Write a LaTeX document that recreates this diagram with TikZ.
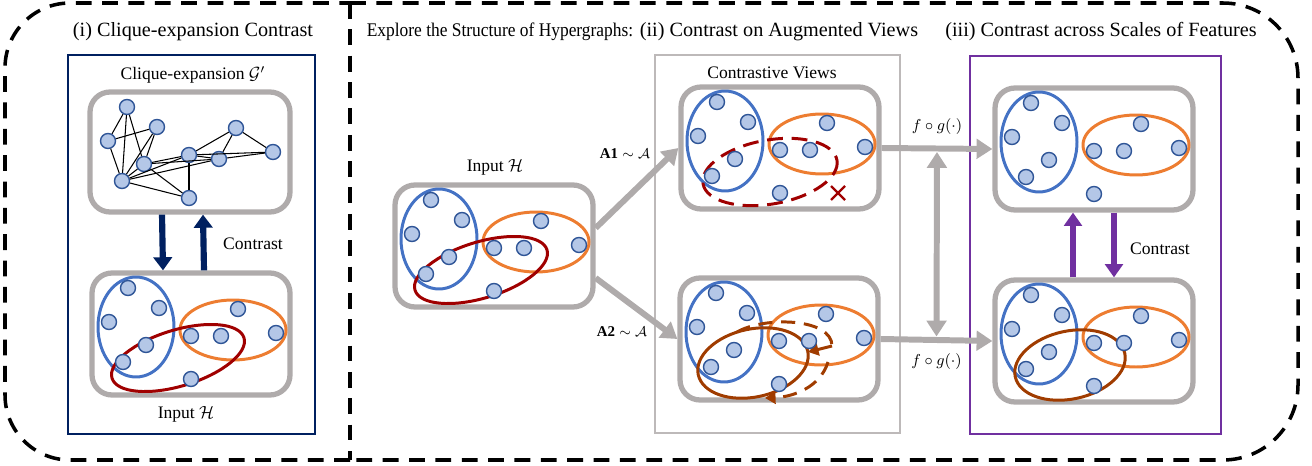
\documentclass[tikz,border=0pt]{standalone}
\usepackage{fontspec}
\setmainfont{Liberation Serif}
\usepackage{amsmath}
\usepackage{graphicx}
\usepackage{tikz}
\usetikzlibrary{arrows.meta, positioning, calc}
\usepackage{xcolor}

\definecolor{navyline}{HTML}{002060}
\definecolor{boxgray}{HTML}{AFABAB}
\definecolor{framegray}{HTML}{BDB9B9}
\definecolor{vfill}{HTML}{B4C7E7}
\definecolor{vborder}{HTML}{2F5597}
\definecolor{hblue}{HTML}{4472C4}
\definecolor{horange}{HTML}{ED7D31}
\definecolor{hred}{HTML}{A00000}
\definecolor{hbrown}{HTML}{A03C00}
\definecolor{hpurple}{HTML}{7030A0}

\newcommand{\ttlsize}{\fontsize{11.5}{14}\selectfont}

\tikzset{
  vtx/.style={circle, draw=vborder, fill=vfill, line width=0.8pt, minimum size=0.3cm, inner sep=0pt},
  hbox/.style={draw=boxgray, line width=3pt, rounded corners=0.4cm, minimum width=3.96cm, minimum height=2.44cm, inner sep=0pt},
  blueedge/.style={draw=hblue, line width=1.7pt},
  orangeedge/.style={draw=horange, line width=1.7pt},
  rededge/.style={draw=hred, line width=1.7pt},
  brownedge/.style={draw=hbrown, line width=1.7pt},
  outer/.style={line width=2pt, dash pattern=on 9pt off 6pt},
  navyarr/.style={draw=navyline, line width=3.5pt, -{Triangle[length=7.5pt, width=10.5pt]}},
  purparr/.style={draw=hpurple, line width=3pt, -{Triangle[length=7.5pt, width=10pt]}},
  grayarr/.style={draw=boxgray, line width=3.4pt, -{Triangle[length=9pt, width=11pt]}},
  lbl/.style={font=\fontsize{10}{12}\selectfont, inner sep=1pt},
}

\newcommand{\hypverts}[1]{%
  \foreach \i/\a/\b in {1/36/15,2/67/35,3/17/49,4/54/72,5/31/89,6/99/63,7/129/63,8/146/36,9/184/60,10/99/106}
    {\node[vtx] (#1\i) at (\a,\b) {};}}

\begin{document}
\begin{tikzpicture}[x=0.02cm, y=-0.02cm]
    \useasboundingbox (0,0) rectangle (1312,466);

    % outer dashed border
    \draw[outer, rounded corners=1.3cm] (350,460) -- (5,460) -- (5,3) -- (350,3);
    \draw[outer, rounded corners=1.5cm] (350,3) -- (1298,3) -- (1298,460) -- (350,460);
    \draw[outer] (350,3) -- (350,460);

    % titles
    \node[font=\ttlsize] (ti) at (193,32) {(i) Clique-expansion Contrast};
    \node[font=\fontsize{11}{13}\selectfont] (texp) at (500,32) {\scalebox{0.9}[1]{Explore the Structure of Hypergraphs:}};
    \node[font=\ttlsize] (tii) at (779,32) {(ii) Contrast on Augmented Views};
    \node[font=\ttlsize] (tiii) at (1101,32) {(iii) Contrast across Scales of Features};

    % (i) clique expansion
    \draw[navyline, line width=1.2pt] (68,55) rectangle (315,434);
    \node[lbl] (clqlbl) at (193,75) {Clique-expansion $\mathcal{G}'$};
    \node[hbox, minimum width=4cm, minimum height=2.4cm] (clq) at (190,152) {};
    \node[vtx] (g1) at (127,107) {};
    \node[vtx] (g2) at (157,127) {};
    \node[vtx] (g3) at (108,141) {};
    \node[vtx] (g4) at (144,164) {};
    \node[vtx] (g5) at (122,181) {};
    \node[vtx] (g6) at (189,155) {};
    \node[vtx] (g7) at (219,159) {};
    \node[vtx] (g8) at (236,128) {};
    \node[vtx] (g9) at (273,152) {};
    \node[vtx] (g10) at (189,198) {};
    \foreach \u/\v in {g1/g3,g1/g4,g1/g5,g2/g3,g2/g4,g2/g5,g3/g5,g4/g5,g4/g6,g4/g7,g4/g10,g5/g6,g5/g7,g5/g10,g6/g7,g6/g8,g6/g9,g6/g10,g7/g8,g7/g9,g8/g9}
        \draw[line width=0.6pt] (\u) -- (\v);

    \begin{scope}[shift={(92,273)}]
        \node[hbox] (inL) at (99,61) {};
        \draw[blueedge] (44,54) ellipse [x radius=38, y radius=50];
        \draw[orangeedge] (141,57) ellipse [x radius=53, y radius=30];
        \draw[rededge, rotate around={17:(86,85)}] (86,85) ellipse [x radius=69, y radius=28];
        \hypverts{inL}
    \end{scope}
    \node[lbl] (inLlbl) at (186,414) {Input $\mathcal{H}$};

    \draw[navyarr] ([xshift=-0.56cm]clq.south) -- ([xshift=-0.56cm]inL.north);
    \draw[navyarr] ([xshift=0.26cm]inL.north) -- ([xshift=0.26cm]clq.south);
    \node[lbl] (ctrL) at (253,244) {Contrast};

    % (ii) augmented views
    \begin{scope}[shift={(395,185)}]
        \node[hbox] (inM) at (99,61) {};
        \draw[blueedge] (44,54) ellipse [x radius=38, y radius=50];
        \draw[orangeedge] (141,57) ellipse [x radius=53, y radius=30];
        \draw[rededge, rotate around={17:(86,85)}] (86,85) ellipse [x radius=69, y radius=28];
        \hypverts{inM}
    \end{scope}
    \node[lbl] (inMlbl) at (495,167) {Input $\mathcal{H}$};

    \draw[framegray, line width=1.4pt] (655,55) rectangle (900,433);
    \node[lbl] (cvlbl) at (772,73) {Contrastive Views};

    \begin{scope}[shift={(681,87)}]
        \node[hbox] (v1) at (99,61) {};
        \draw[blueedge] (44,54) ellipse [x radius=38, y radius=50];
        \draw[orangeedge] (141,57) ellipse [x radius=53, y radius=30];
        \draw[rededge, dash pattern=on 9pt off 5pt, rotate around={10:(89,85)}] (89,85) ellipse [x radius=68, y radius=32];
        \draw[hred, line width=1.4pt] (150,99) -- (164,113) (150,113) -- (164,99);
        \hypverts{va}
    \end{scope}

    \begin{scope}[shift={(680,278)}]
        \node[hbox] (v2) at (99,61) {};
        \draw[blueedge] (44,54) ellipse [x radius=38, y radius=50];
        \draw[orangeedge] (141,57) ellipse [x radius=53, y radius=30];
        \draw[brownedge, rotate around={12:(73,85)}] (73,85) ellipse [x radius=56, y radius=34];
        \draw[brownedge, dash pattern=on 8pt off 5pt] (57,54) .. controls (85,38) and (152,40) .. (152,68);
        \draw[brownedge, -{Triangle[length=6pt, width=7pt]}] (152,68) -- (128,74);
        \draw[brownedge, dash pattern=on 8pt off 5pt, -{Triangle[length=6pt, width=7pt]}] (148,84) .. controls (140,110) and (112,119) .. (85,120);
        \hypverts{vb}
    \end{scope}

    \draw[grayarr] ([yshift=0.36cm]inM.east) -- (v1.west);
    \draw[grayarr] ([yshift=-0.64cm]inM.east) -- (v2.west);
    \node[font=\fontsize{8.5}{10}\selectfont] (a1lbl) at (625,154) {$\textbf{A1}\sim\mathcal{A}$};
    \node[font=\fontsize{8.5}{10}\selectfont] (a2lbl) at (622,332) {$\textbf{A2}\sim\mathcal{A}$};

    % (iii) scales of features
    \draw[hpurple, line width=1.4pt] (970,56) rectangle (1221,434);

    \begin{scope}[shift={(995,88)}]
        \node[hbox] (o1) at (99,61) {};
        \draw[blueedge] (44,54) ellipse [x radius=38, y radius=50];
        \draw[orangeedge] (141,57) ellipse [x radius=53, y radius=30];
        \hypverts{oa}
    \end{scope}

    \begin{scope}[shift={(995,280)}]
        \node[hbox] (o2) at (99,61) {};
        \draw[blueedge] (44,54) ellipse [x radius=38, y radius=50];
        \draw[orangeedge] (141,57) ellipse [x radius=53, y radius=30];
        \draw[brownedge, rotate around={12:(75,85)}] (75,85) ellipse [x radius=56, y radius=34];
        \hypverts{ob}
    \end{scope}

    \draw[grayarr] (v1.east) -- (o1.west) node[midway, above=3pt, font=\fontsize{9}{11}\selectfont] (fg1) {$f\circ g(\cdot)$};
    \draw[grayarr] (v2.east) -- (o2.west) node[midway, below=3pt, font=\fontsize{9}{11}\selectfont] (fg2) {$f\circ g(\cdot)$};
    \draw[grayarr, {Triangle[length=9pt, width=11pt]}-{Triangle[length=9pt, width=11pt]}, shorten <=2pt, shorten >=2pt]
        ($(v1.east)!.5!(o1.west)$) -- ($(v2.east)!.5!(o2.west)$);

    \draw[purparr] ([xshift=-0.42cm]o2.north) -- ([xshift=-0.42cm]o1.south);
    \draw[purparr] ([xshift=0.4cm]o1.south) -- ([xshift=0.4cm]o2.north);
    \node[lbl] (ctrR) at (1160,249) {Contrast};
\end{tikzpicture}
\end{document}
